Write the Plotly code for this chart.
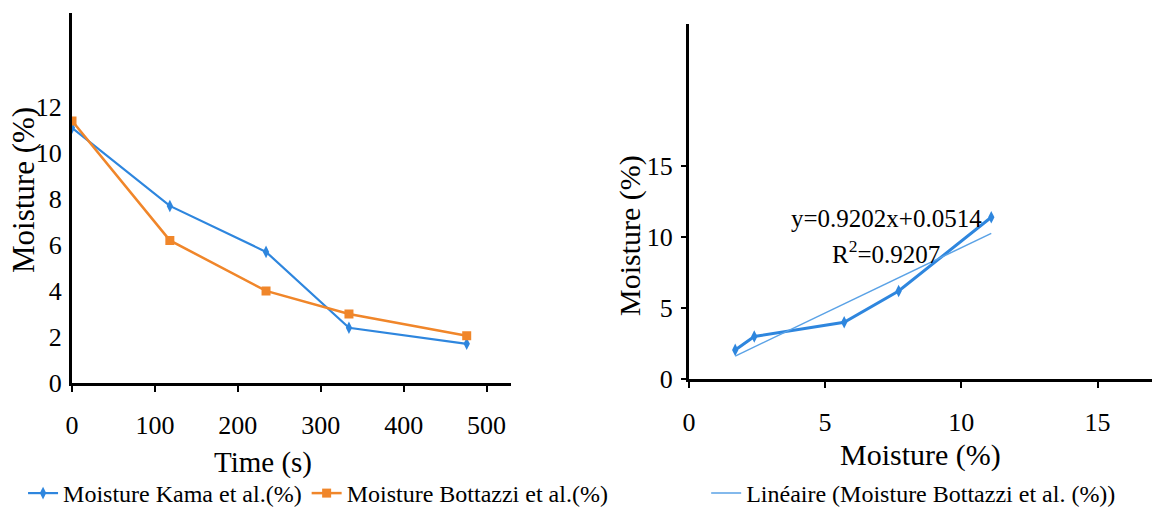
import numpy as np
import plotly.graph_objects as go

# ---- data ----
time_s = [0, 118, 234, 334, 476]
moisture_kama = [11.1, 7.7, 5.7, 2.4, 1.7]
moisture_bottazzi = [11.4, 6.2, 4.0, 3.0, 2.05]

left_y_ticks = [0, 2, 4, 6, 8, 10, 12]
left_x_ticks = [0, 100, 200, 300, 400, 500]
right_ticks = [0, 5, 10, 15]

fit_slope = 0.9202
fit_intercept = 0.0514
fit_r2 = 0.9207

BLUE = "#2e86de"
ORANGE = "#f0862a"
TREND = "#5aa2e6"
FONT = "Liberation Serif"

fig = go.Figure()

fig.add_trace(go.Scatter(
    x=time_s, y=moisture_kama, mode="lines+markers",
    name="Moisture Kama et al.(%)",
    line=dict(color=BLUE, width=2.2),
    marker=dict(symbol="diamond-tall", size=9, color=BLUE),
    xaxis="x", yaxis="y", legend="legend"))
fig.add_trace(go.Scatter(
    x=time_s, y=moisture_bottazzi, mode="lines+markers",
    name="Moisture Bottazzi et al.(%)",
    line=dict(color=ORANGE, width=2.5),
    marker=dict(symbol="square", size=9, color=ORANGE),
    xaxis="x", yaxis="y", legend="legend"))

# right: Kama vs Bottazzi
fig.add_trace(go.Scatter(
    x=moisture_kama, y=moisture_bottazzi, mode="lines+markers",
    name="Moisture Bottazzi et al. (%)", showlegend=False,
    line=dict(color=BLUE, width=3),
    marker=dict(symbol="diamond-tall", size=9, color=BLUE),
    xaxis="x2", yaxis="y2"))
xf = np.array([min(moisture_kama), max(moisture_kama)])
fig.add_trace(go.Scatter(
    x=xf, y=fit_slope * xf + fit_intercept, mode="lines",
    name="Linéaire (Moisture Bottazzi et al. (%))",
    line=dict(color=TREND, width=1.5),
    xaxis="x2", yaxis="y2", legend="legend2"))

axis_common = dict(showline=True, linecolor="black", linewidth=3,
                   showgrid=False, zeroline=False, automargin=False,
                   tickfont=dict(family=FONT, size=26, color="black"),
                   ticks="outside", tickcolor="black", tickwidth=1.5)

fig.update_layout(
    template="none",
    width=1152, height=516,
    margin=dict(l=0, r=0, t=0, b=0),
    paper_bgcolor="white", plot_bgcolor="white",
    font=dict(family=FONT, color="black"),
    xaxis=dict(axis_common, domain=[0.0625, 0.444], range=[0, 530],
               tickvals=left_x_ticks, ticklen=6, ticklabelstandoff=11, anchor="y"),
    yaxis=dict(axis_common, domain=[0.258, 0.975], range=[0, 16.1],
               tickvals=left_y_ticks, ticks="", ticklen=0, ticklabelstandoff=2,
               anchor="x"),
    xaxis2=dict(axis_common, domain=[0.598, 1.0], range=[0, 17],
                tickvals=right_ticks, ticklen=6, ticklabelstandoff=12, anchor="y2"),
    yaxis2=dict(axis_common, domain=[0.2655, 0.953], range=[0, 25],
                tickvals=right_ticks, ticks="outside", ticklen=5, ticklabelstandoff=3,
                anchor="x2"),
    showlegend=True,
    legend=dict(orientation="h", x=0.02, y=0, xanchor="left", yanchor="bottom",
                font=dict(family=FONT, size=24, color="black"),
                bgcolor="rgba(0,0,0,0)", itemwidth=30, tracegroupgap=0),
    legend2=dict(orientation="h", x=0.613, y=0, xanchor="left", yanchor="bottom",
                 font=dict(family=FONT, size=24, color="black"),
                 bgcolor="rgba(0,0,0,0)", itemwidth=30),
    annotations=[
        dict(text="Time (s)", x=263 / 1152, y=1 - 462 / 516, xref="paper", yref="paper",
             xanchor="center", yanchor="middle",
             showarrow=False, font=dict(family=FONT, size=29)),
        dict(text="Moisture (%)", x=23 / 1152, y=1 - 190 / 516, xref="paper", yref="paper",
             xanchor="center", yanchor="middle",
             showarrow=False, textangle=-90, font=dict(family=FONT, size=31)),
        dict(text="Moisture (%)", x=920 / 1152, y=1 - 455 / 516, xref="paper", yref="paper",
             xanchor="center", yanchor="middle",
             showarrow=False, font=dict(family=FONT, size=30)),
        dict(text="Moisture (%)", x=630 / 1152, y=1 - 236 / 516, xref="paper", yref="paper",
             xanchor="center", yanchor="middle",
             showarrow=False, textangle=-90, font=dict(family=FONT, size=30)),
        dict(text=f"y={fit_slope}x+{fit_intercept}", x=886 / 1152, y=1 - 218 / 516,
             xref="paper", yref="paper", xanchor="center", yanchor="middle",
             showarrow=False, font=dict(family=FONT, size=25)),
        dict(text=f"R<sup>2</sup>={fit_r2}", x=886 / 1152, y=1 - 252 / 516,
             xref="paper", yref="paper", xanchor="center", yanchor="middle",
             showarrow=False, font=dict(family=FONT, size=25)),
    ],
)

fig.write_html("out.html")
